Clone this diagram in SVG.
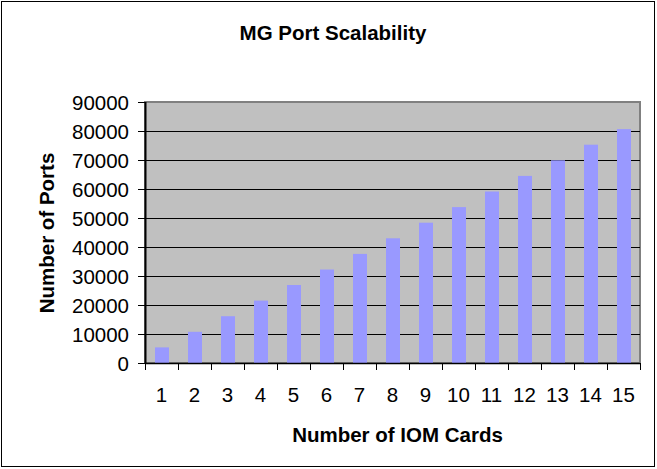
<svg xmlns="http://www.w3.org/2000/svg" width="657" height="469" viewBox="0 0 657 469">
<style>
.t{font-family:"Liberation Sans",Arial,sans-serif;fill:#000}
.b{font-weight:bold;font-size:20.5px}
.n{font-size:20.5px}
.grid{stroke:#000;stroke-width:1}
.bar{fill:#9999FF}
</style>
<rect x="0" y="0" width="657" height="469" fill="#fff"/>
<rect x="1.5" y="1.5" width="653" height="465" fill="none" stroke="#000" stroke-width="1"/>
<g id="title"><text class="t b" x="333" y="40" text-anchor="middle">MG Port Scalability</text></g>
<g id="plot">
<rect x="145" y="102" width="495" height="261" fill="#C0C0C0" stroke="#808080" stroke-width="2"/>
<g class="grid">
<line x1="145" y1="131.5" x2="640" y2="131.5"/>
<line x1="145" y1="160.5" x2="640" y2="160.5"/>
<line x1="145" y1="189.5" x2="640" y2="189.5"/>
<line x1="145" y1="218.5" x2="640" y2="218.5"/>
<line x1="145" y1="247.5" x2="640" y2="247.5"/>
<line x1="145" y1="276.5" x2="640" y2="276.5"/>
<line x1="145" y1="305.5" x2="640" y2="305.5"/>
<line x1="145" y1="334.5" x2="640" y2="334.5"/>
</g>
</g>
<g id="bars">
<rect class="bar" x="155" y="347.4" width="14" height="15.6"/>
<rect class="bar" x="188" y="331.8" width="14" height="31.2"/>
<rect class="bar" x="221" y="316.2" width="14" height="46.8"/>
<rect class="bar" x="254" y="300.6" width="14" height="62.4"/>
<rect class="bar" x="287" y="285.0" width="14" height="78.0"/>
<rect class="bar" x="320" y="269.5" width="14" height="93.5"/>
<rect class="bar" x="353" y="253.9" width="14" height="109.1"/>
<rect class="bar" x="386" y="238.3" width="14" height="124.7"/>
<rect class="bar" x="419" y="222.7" width="14" height="140.3"/>
<rect class="bar" x="452" y="207.1" width="14" height="155.9"/>
<rect class="bar" x="485" y="191.5" width="14" height="171.5"/>
<rect class="bar" x="518" y="175.9" width="14" height="187.1"/>
<rect class="bar" x="551" y="160.3" width="14" height="202.7"/>
<rect class="bar" x="584" y="144.7" width="14" height="218.3"/>
<rect class="bar" x="617" y="129.1" width="14" height="233.9"/>
</g>
<g id="axes" stroke="#000" stroke-width="1">
<line x1="145.5" y1="102" x2="145.5" y2="363.5" stroke-width="2"/>
<line x1="145" y1="363.5" x2="640" y2="363.5" stroke-width="1.5"/>
<line x1="138" y1="102.5" x2="145" y2="102.5"/>
<line x1="138" y1="131.5" x2="145" y2="131.5"/>
<line x1="138" y1="160.5" x2="145" y2="160.5"/>
<line x1="138" y1="189.5" x2="145" y2="189.5"/>
<line x1="138" y1="218.5" x2="145" y2="218.5"/>
<line x1="138" y1="247.5" x2="145" y2="247.5"/>
<line x1="138" y1="276.5" x2="145" y2="276.5"/>
<line x1="138" y1="305.5" x2="145" y2="305.5"/>
<line x1="138" y1="334.5" x2="145" y2="334.5"/>
<line x1="138" y1="363.5" x2="145" y2="363.5"/>
<line x1="145.5" y1="363" x2="145.5" y2="370"/>
<line x1="178.5" y1="363" x2="178.5" y2="370"/>
<line x1="211.5" y1="363" x2="211.5" y2="370"/>
<line x1="244.5" y1="363" x2="244.5" y2="370"/>
<line x1="277.5" y1="363" x2="277.5" y2="370"/>
<line x1="310.5" y1="363" x2="310.5" y2="370"/>
<line x1="343.5" y1="363" x2="343.5" y2="370"/>
<line x1="376.5" y1="363" x2="376.5" y2="370"/>
<line x1="409.5" y1="363" x2="409.5" y2="370"/>
<line x1="442.5" y1="363" x2="442.5" y2="370"/>
<line x1="475.5" y1="363" x2="475.5" y2="370"/>
<line x1="508.5" y1="363" x2="508.5" y2="370"/>
<line x1="541.5" y1="363" x2="541.5" y2="370"/>
<line x1="574.5" y1="363" x2="574.5" y2="370"/>
<line x1="607.5" y1="363" x2="607.5" y2="370"/>
<line x1="640.5" y1="363" x2="640.5" y2="370"/>
</g>
<g id="ylabels" class="t n" text-anchor="end">
<text x="129" y="109.5">90000</text>
<text x="129" y="138.5">80000</text>
<text x="129" y="167.5">70000</text>
<text x="129" y="196.5">60000</text>
<text x="129" y="225.5">50000</text>
<text x="129" y="254.5">40000</text>
<text x="129" y="283.5">30000</text>
<text x="129" y="312.5">20000</text>
<text x="129" y="341.5">10000</text>
<text x="129" y="370.5">0</text>
</g>
<g id="xlabels" class="t n" text-anchor="middle">
<text x="161.5" y="401.5">1</text>
<text x="194.5" y="401.5">2</text>
<text x="227.5" y="401.5">3</text>
<text x="260.5" y="401.5">4</text>
<text x="293.5" y="401.5">5</text>
<text x="326.5" y="401.5">6</text>
<text x="359.5" y="401.5">7</text>
<text x="392.5" y="401.5">8</text>
<text x="425.5" y="401.5">9</text>
<text x="458.5" y="401.5">10</text>
<text x="491.5" y="401.5">11</text>
<text x="524.5" y="401.5">12</text>
<text x="557.5" y="401.5">13</text>
<text x="590.5" y="401.5">14</text>
<text x="623.5" y="401.5">15</text>
</g>
<g id="xtitle"><text class="t b" x="397.5" y="441.5" text-anchor="middle">Number of IOM Cards</text></g>
<g id="ytitle"><text class="t b" x="53.5" y="233" text-anchor="middle" transform="rotate(-90 53.5 233)">Number of Ports</text></g>
</svg>
